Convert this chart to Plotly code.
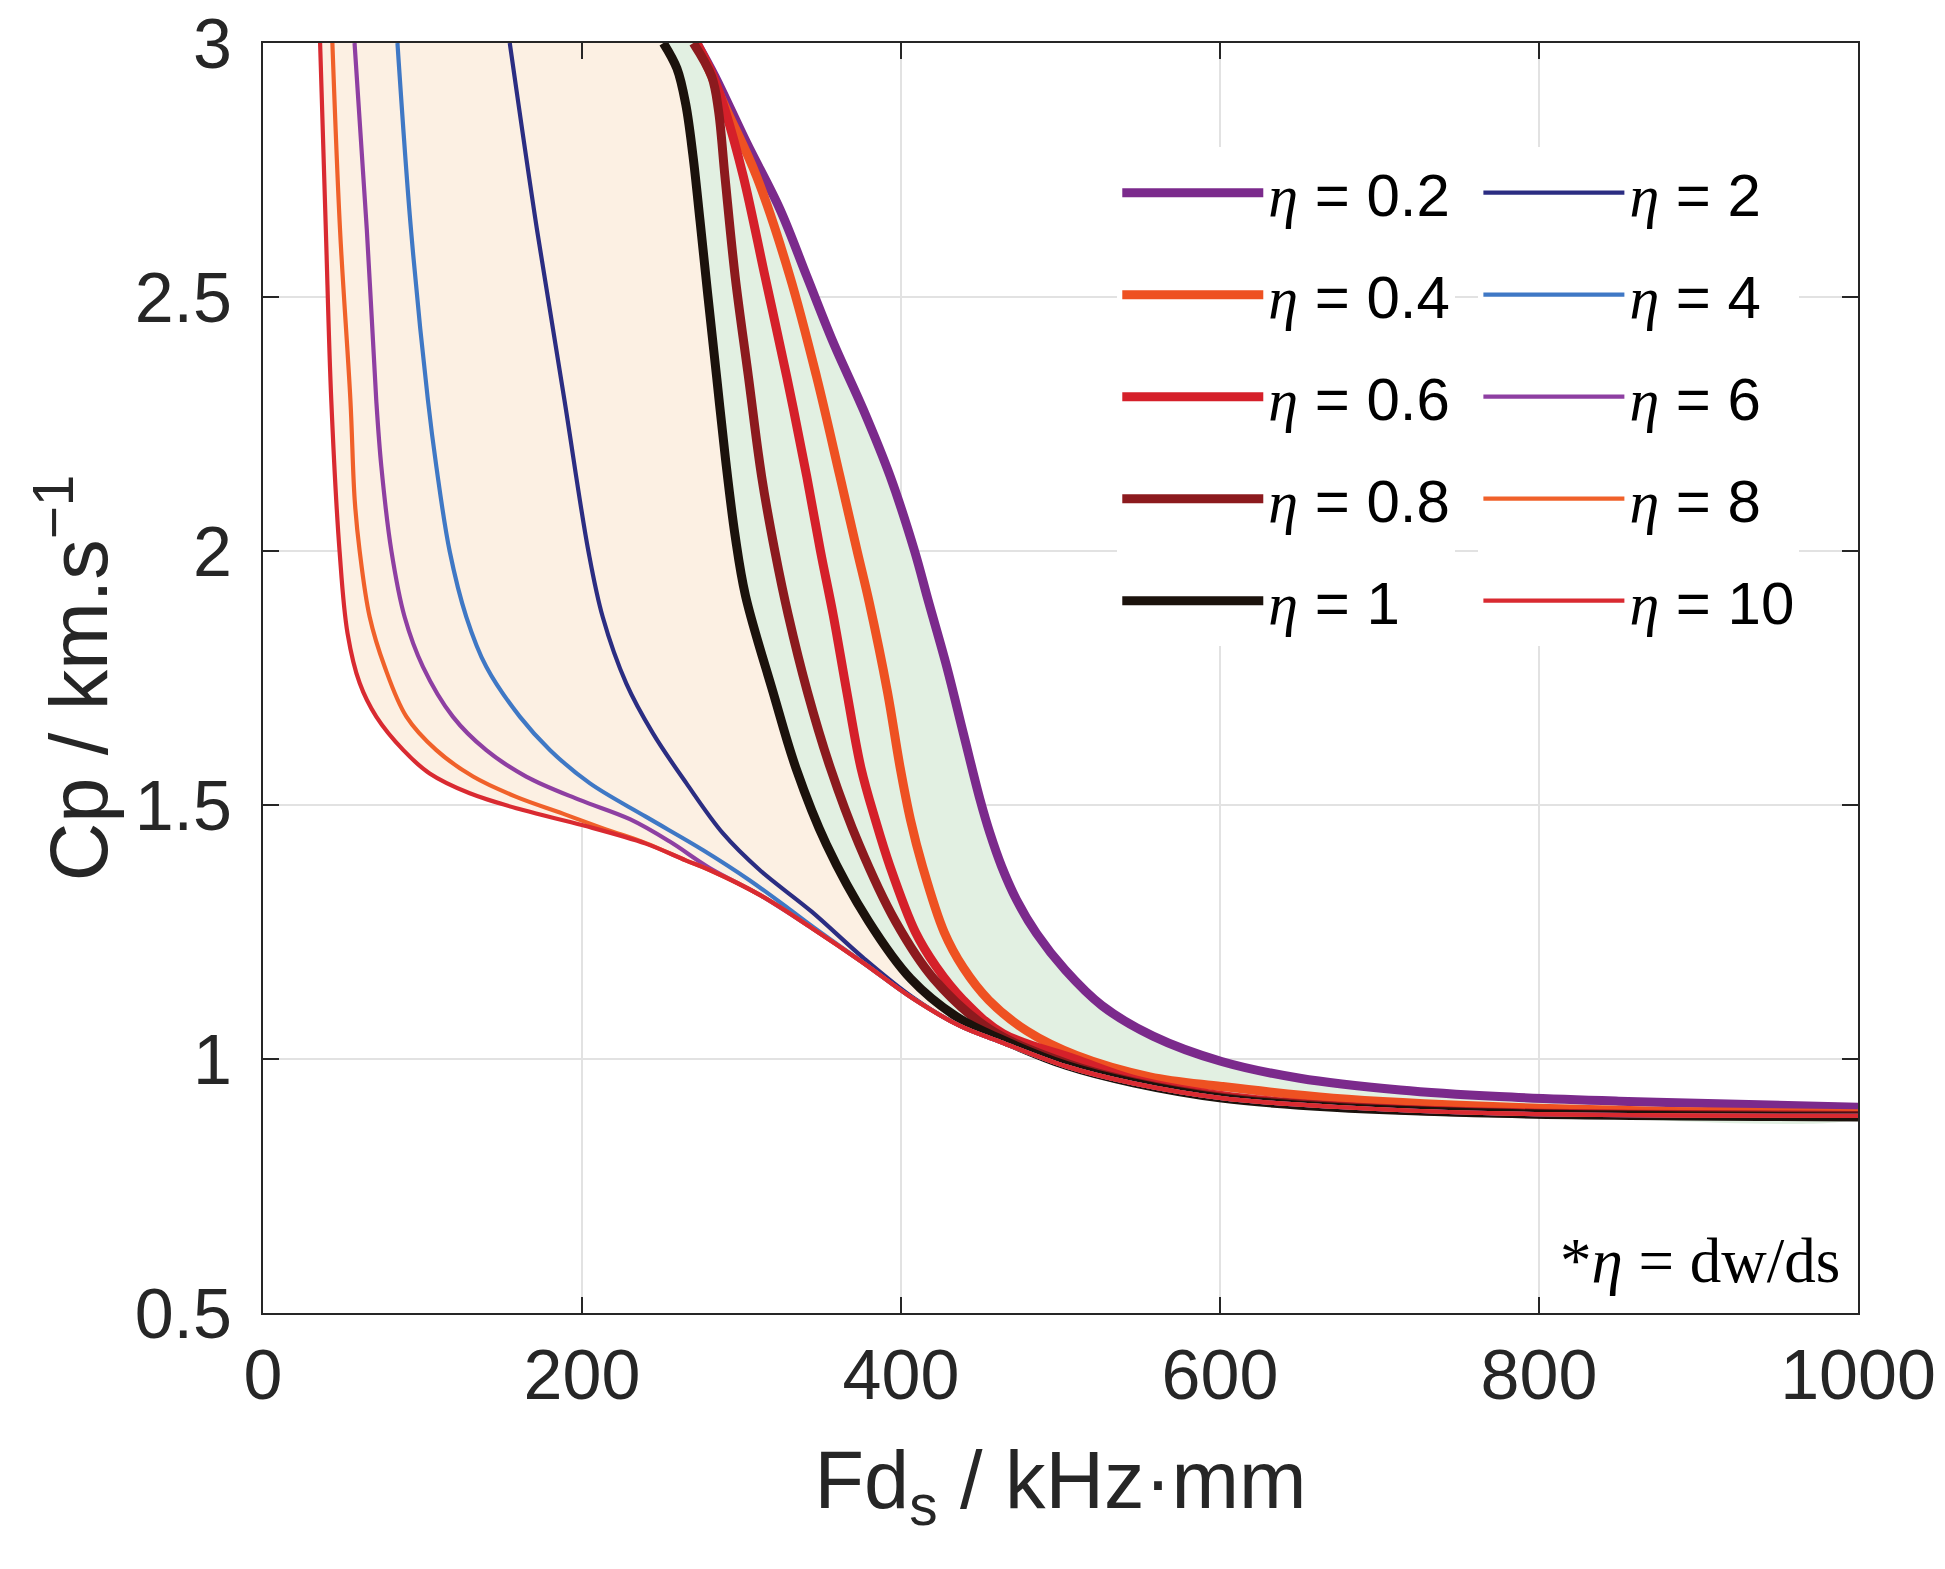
#!/usr/bin/env python3
# Phase velocity Cp vs Fd_s for several dw/ds ratios (eta)

import plotly.graph_objects as go

# Fd_s (kHz*mm) / Cp (km/s), from the top of the plot to the tail
fd_02 = [272, 283.4, 303.3, 324.2, 340.9, 357.6, 376.4, 393.2, 408.5, 417, 428.7, 439.1, 449.6, 455.8,
         463.1, 472.5, 485, 503, 526, 558, 601, 650, 713, 775, 850, 925, 1000]
cp_02 = [3.0, 2.934, 2.803, 2.672, 2.541, 2.41, 2.278, 2.147, 2.0, 1.903, 1.772, 1.641, 1.51, 1.444,
         1.379, 1.313, 1.247, 1.175, 1.105, 1.045, 0.995, 0.962, 0.939, 0.926, 0.917, 0.911, 0.905]

fd_04 = [272, 290.6, 309.4, 330.3, 347, 361.7, 372.5, 380, 391.5, 399.5, 406, 413.5, 427, 439, 455,
         479, 510, 556, 601, 671, 775, 900, 1000]
cp_04 = [3.0, 2.869, 2.738, 2.541, 2.344, 2.147, 2.0, 1.9, 1.723, 1.573, 1.47, 1.379, 1.25, 1.18, 1.116,
         1.055, 1.007, 0.965, 0.946, 0.923, 0.906, 0.896, 0.892]

fd_06 = [272, 282.3, 289.6, 301.1, 314.7, 328.3, 340.9, 349.5, 357.5, 366, 374.9, 384, 393, 409, 422,
         439, 464, 509, 545.8, 601, 671, 775, 1000]
cp_06 = [3.0, 2.934, 2.869, 2.738, 2.541, 2.344, 2.147, 2.0, 1.874, 1.723, 1.573, 1.47, 1.38, 1.25, 1.182,
         1.116, 1.05, 1.0, 0.96, 0.928, 0.908, 0.895, 0.889]

fd_08 = [269.8, 281.3, 285.5, 289.6, 296, 304.3, 312.6, 320.9, 329.3, 341.3, 355.7, 373.7, 396.5, 420.5,
         456, 505, 545.8, 601, 671, 775, 1000]
cp_08 = [3.0, 2.934, 2.869, 2.738, 2.541, 2.344, 2.147, 2.0, 1.874, 1.723, 1.573, 1.422, 1.271, 1.158,
         1.058, 0.99, 0.955, 0.925, 0.907, 0.894, 0.889]

fd_1 = [251, 259.5, 265, 269.5, 274, 279, 284.5, 290, 296, 302.5, 319.7, 334.1, 353.3, 379.7, 406.1,
        434.9, 462, 504, 545.8, 601, 671, 775, 1000]
cp_1 = [3.0, 2.95, 2.88, 2.78, 2.65, 2.5, 2.34, 2.18, 2.03, 1.912, 1.723, 1.573, 1.422, 1.271, 1.158,
        1.083, 1.04, 0.987, 0.953, 0.923, 0.905, 0.893, 0.886]

fd_2 = [154.7, 171.8, 189, 204, 213, 227.8, 244.5, 265.4, 288.4, 311.4, 344, 376, 407, 437, 462, 504,
        545.8, 601, 671, 775, 1000]
cp_2 = [3.0, 2.632, 2.297, 2.0, 1.87, 1.739, 1.641, 1.543, 1.444, 1.372, 1.29, 1.2, 1.122, 1.065, 1.034, 0.985,
        0.952, 0.923, 0.906, 0.893, 0.888]

fd_4 = [84.3, 92.8, 103.4, 108.7, 117, 127.5, 140, 161, 180, 204.8, 240, 276, 305, 330, 344, 376, 407,
        437, 462, 504, 545.8, 601, 671, 775, 1000]
cp_4 = [3.0, 2.632, 2.297, 2.166, 2.0, 1.87, 1.772, 1.674, 1.608, 1.543, 1.477, 1.411, 1.352, 1.295, 1.262, 1.19, 1.12,
        1.065, 1.034, 0.985, 0.952, 0.923, 0.906, 0.893, 0.888]

fd_6 = [57.4, 65.1, 71, 74.2, 80.5, 88.8, 100.3, 119, 140, 165, 198.5, 230, 255, 280, 312, 344, 376,
        407, 437, 462, 504, 545.8, 601, 671, 775, 1000]
cp_6 = [3.0, 2.632, 2.297, 2.166, 2.0, 1.87, 1.772, 1.674, 1.608, 1.556, 1.51, 1.472, 1.428, 1.376, 1.322, 1.258, 1.19,
        1.12, 1.065, 1.034, 0.985, 0.952, 0.923, 0.906, 0.893, 0.888]

fd_8 = [43.5, 48.3, 54.8, 57.5, 60.6, 66.9, 76.3, 89.9, 108.7, 131.7, 158.8, 188, 215, 240, 265, 280,
        312, 344, 376, 407, 437, 462, 504, 545.8, 601, 671, 775, 1000]
cp_8 = [3.0, 2.632, 2.297, 2.1, 2.0, 1.87, 1.772, 1.674, 1.608, 1.556, 1.516, 1.483, 1.452, 1.425, 1.391, 1.372,
        1.322, 1.258, 1.19, 1.12, 1.065, 1.034, 0.985, 0.952, 0.923, 0.906, 0.893, 0.888]

fd_10 = [35.8, 39.4, 42.8, 48, 53, 60.6, 71, 88, 104.5, 129.6, 163, 200.6, 240, 265, 280, 312, 344,
         376, 407, 437, 462, 504, 545.8, 601, 671, 775, 1000]
cp_10 = [3.0, 2.632, 2.297, 2.0, 1.838, 1.74, 1.674, 1.608, 1.562, 1.523, 1.49, 1.46, 1.424, 1.391, 1.372, 1.322, 1.258,
         1.19, 1.12, 1.065, 1.034, 0.985, 0.952, 0.923, 0.906, 0.893, 0.888]

eta_labels = ['0.2', '0.4', '0.6', '0.8', '1', '2', '4', '6', '8', '10']
x_ticks = [0, 200, 400, 600, 800, 1000]
y_ticks = [0.5, 1, 1.5, 2, 2.5, 3]

curves = [
    (fd_02, cp_02, '#7B2A8C', 9, 'legend'),
    (fd_04, cp_04, '#EE5122', 9, 'legend'),
    (fd_06, cp_06, '#D5202A', 9, 'legend'),
    (fd_08, cp_08, '#8C1A1E', 9, 'legend'),
    (fd_1, cp_1, '#1B120C', 9, 'legend'),
    (fd_2, cp_2, '#2B2D82', 4.2, 'legend2'),
    (fd_4, cp_4, '#3F78C5', 4.2, 'legend2'),
    (fd_6, cp_6, '#8E3FA2', 4.2, 'legend2'),
    (fd_8, cp_8, '#F0612A', 4.2, 'legend2'),
    (fd_10, cp_10, '#D92A31', 4.2, 'legend2'),
]

SANS = "Arial, 'Liberation Sans', sans-serif"
SERIF = "'Times New Roman', 'Liberation Serif', serif"
AXIS_COLOR = '#262626'

fig = go.Figure()

# shaded bands: eta >= 1 (between eta=10 and eta=1) and eta <= 1 (between eta=1 and eta=0.2)
fig.add_trace(go.Scatter(x=fd_10 + fd_1[::-1], y=cp_10 + cp_1[::-1], fill='toself',
                         fillcolor='#FCF0E3', line=dict(width=0, shape='spline', smoothing=1),
                         mode='lines', showlegend=False, hoverinfo='skip'))
fig.add_trace(go.Scatter(x=fd_1 + fd_02[::-1], y=cp_1 + cp_02[::-1], fill='toself',
                         fillcolor='#E2F0E2', line=dict(width=0, shape='spline', smoothing=1),
                         mode='lines', showlegend=False, hoverinfo='skip'))

for i, (xs, ys, color, lw, leg) in enumerate(curves):
    name = ("<span style=\"font-family:" + SERIF + "\"><i>η</i></span> = " + eta_labels[i])
    fig.add_trace(go.Scatter(x=xs, y=ys, mode='lines', name=name,
                             line=dict(color=color, width=lw, shape='spline', smoothing=1),
                             legend=leg, legendgroup='g' + str(i)))

axis_common = dict(
    showline=True, linecolor=AXIS_COLOR, linewidth=2, mirror='ticks',
    ticks='inside', ticklen=16, tickwidth=2, tickcolor=AXIS_COLOR,
    showgrid=True, gridcolor='#E2E2E2', gridwidth=2, zeroline=False,
    tickfont=dict(family=SANS, size=70, color=AXIS_COLOR),
    ticklabeloverflow='allow', automargin=False,
)

fig.update_xaxes(range=[0, 1000], tickvals=x_ticks,
                 title=dict(text='Fd<sub>s</sub> / kHz·mm', standoff=38,
                            font=dict(family=SANS, size=81, color=AXIS_COLOR)),
                 **axis_common)
fig.update_yaxes(range=[0.5, 3], tickvals=y_ticks, ticklabelstandoff=15,
                 title=dict(text='Cp / km.s<sup>−1</sup>', standoff=0,
                            font=dict(family=SANS, size=81, color=AXIS_COLOR)),
                 **axis_common)

legend_common = dict(
    bgcolor='white', borderwidth=0, itemwidth=141, tracegroupgap=21,
    font=dict(family=SANS, size=60, color='black'),
    xanchor='left', yanchor='top', y=0.918,
)

# the page adds an 8px body margin, so the margins are trimmed to keep the plot box in place
fig.update_layout(
    width=1945, height=1569,
    margin=dict(l=255, r=95, t=35, b=264, autoexpand=False),
    plot_bgcolor='white', paper_bgcolor='white',
    legend=dict(x=0.5356, **legend_common),
    legend2=dict(x=0.762, **legend_common),
    annotations=[dict(
        text='*<i>η</i> = dw/ds', xref='paper', yref='paper', x=0.99, y=0.012,
        xanchor='right', yanchor='bottom', showarrow=False,
        font=dict(family=SERIF, size=63, color='black'),
    )],
)

fig.write_html("out.html")
